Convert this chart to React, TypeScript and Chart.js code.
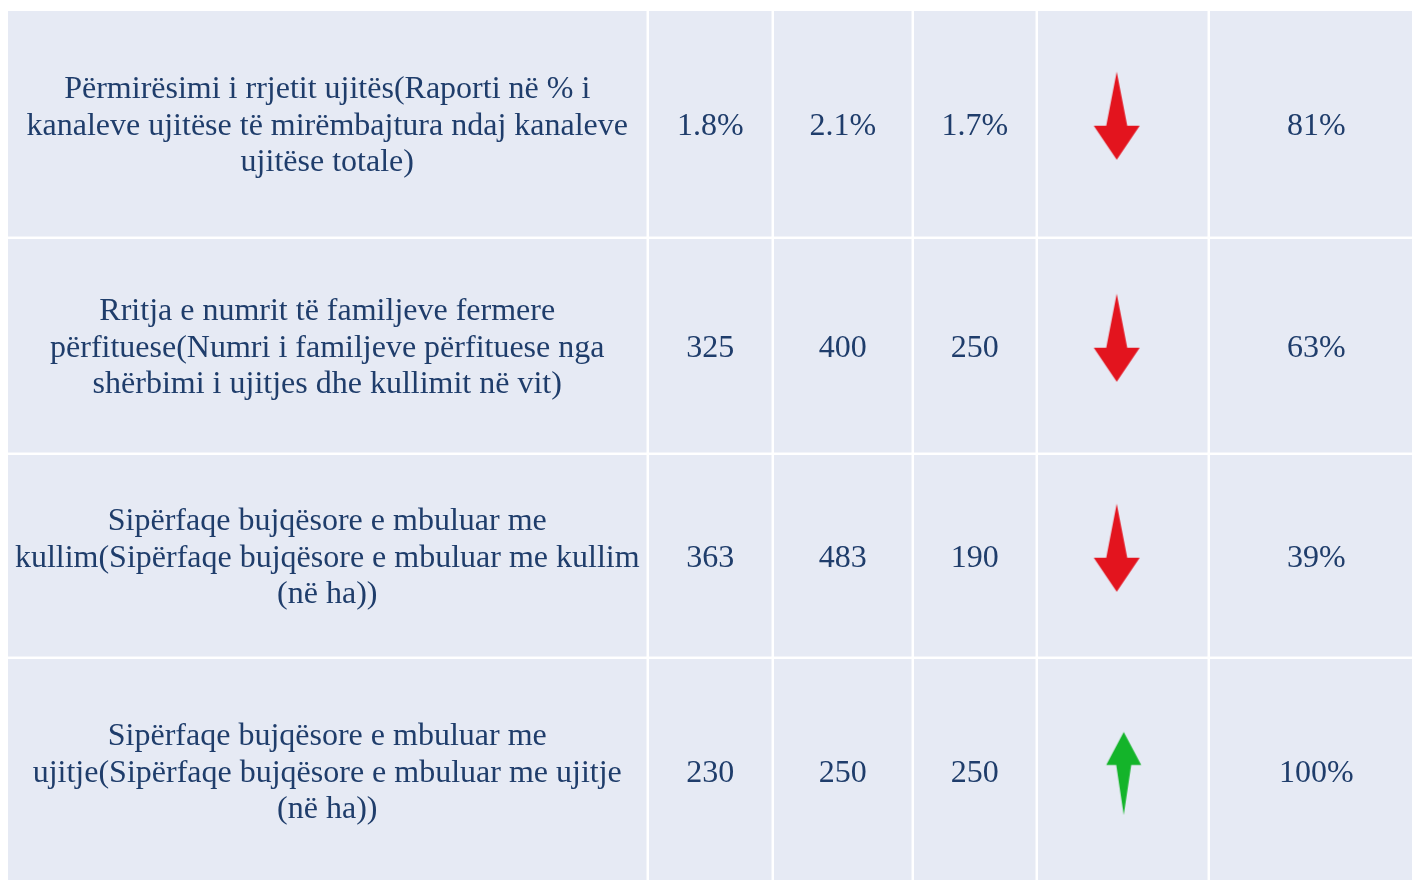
import React, { useEffect, useRef } from "react";
import { Chart, registerables } from "chart.js";

Chart.register(...registerables);

// ---- data ----
const INDICATORS: string[][] = [
  [
    "Përmirësimi i rrjetit ujitës(Raporti në % i",
    "kanaleve ujitëse të mirëmbajtura ndaj kanaleve",
    "ujitëse totale)",
  ],
  [
    "Rritja e numrit të familjeve fermere",
    "përfituese(Numri i familjeve përfituese nga",
    "shërbimi i ujitjes dhe kullimit në vit)",
  ],
  [
    "Sipërfaqe bujqësore e mbuluar me",
    "kullim(Sipërfaqe bujqësore e mbuluar me kullim",
    "(në ha))",
  ],
  [
    "Sipërfaqe bujqësore e mbuluar me",
    "ujitje(Sipërfaqe bujqësore e mbuluar me ujitje",
    "(në ha))",
  ],
];
const UNITS = ["%", "", "", ""];
const BASELINE = [1.8, 325, 363, 230];
const TARGET = [2.1, 400, 483, 250];
const ACTUAL = [1.7, 250, 190, 250];
const TREND = ["down", "down", "down", "up"];
const ACHIEVEMENT = [81, 63, 39, 100];

// ---- layout / style ----
const COL_WIDTHS = [641, 125, 140, 124, 172, 215];
const ROW_HEIGHTS = [228, 216, 204, 226];
const GAP = 2.5;
const CELL_BG = "#e6eaf4";
const TEXT_COLOR = "#1f3d6b";
const FONT = "32px 'Liberation Serif', 'Times New Roman', serif";
const LINE_H = 36.5;
const TEXT_DY = 2.5;
const RED = "#e3141e";
const GREEN = "#14b42a";

const TOTAL_W = COL_WIDTHS.reduce((a, b) => a + b, 0);
const TOTAL_H = ROW_HEIGHTS.reduce((a, b) => a + b, 0) + 10;
const colStart = (c: number) => COL_WIDTHS.slice(0, c).reduce((a, b) => a + b, 0);
const rowStart = (r: number) => ROW_HEIGHTS.slice(0, r).reduce((a, b) => a + b, 0);
const colCenter = (c: number) => colStart(c) + (COL_WIDTHS[c] - GAP) / 2;
const rowCenter = (r: number) => rowStart(r) + (ROW_HEIGHTS[r] - GAP) / 2;

function makeArrow(dir: string): HTMLCanvasElement {
  const cv = document.createElement("canvas");
  cv.width = 80;
  cv.height = 120;
  const ctx = cv.getContext("2d")!;
  ctx.filter = "blur(0.6px)";
  ctx.beginPath();
  if (dir === "down") {
    const cx = 40 - 6;
    const cy = 60 - 8;
    ctx.fillStyle = RED;
    ctx.moveTo(cx, cy - 44);
    ctx.lineTo(cx + 10.5, cy + 10);
    ctx.lineTo(cx + 23, cy + 10);
    ctx.lineTo(cx, cy + 44);
    ctx.lineTo(cx - 23, cy + 10);
    ctx.lineTo(cx - 10.5, cy + 10);
  } else {
    const cx = 40 + 1;
    const cy = 60 + 2.75;
    ctx.fillStyle = GREEN;
    ctx.moveTo(cx, cy - 41.5);
    ctx.lineTo(cx + 17.5, cy - 8.5);
    ctx.lineTo(cx + 7.5, cy - 8.5);
    ctx.lineTo(cx, cy + 41.5);
    ctx.lineTo(cx - 7.5, cy - 8.5);
    ctx.lineTo(cx - 17.5, cy - 8.5);
  }
  ctx.closePath();
  ctx.fill();
  return cv;
}

const fmt = (v: number, u: string) => `${v}${u}`;

const tablePlugin = {
  id: "tableCells",
  beforeDatasetsDraw(chart: any) {
    const { ctx, scales } = chart;
    const xs = scales.x;
    const ys = scales.y;
    ctx.save();
    // cell backgrounds
    ctx.fillStyle = CELL_BG;
    for (let r = 0; r < ROW_HEIGHTS.length; r++) {
      for (let c = 0; c < COL_WIDTHS.length; c++) {
        const x0 = xs.getPixelForValue(colStart(c));
        const x1 = xs.getPixelForValue(colStart(c) + COL_WIDTHS[c] - GAP);
        const y0 = ys.getPixelForValue(rowStart(r));
        const y1 = ys.getPixelForValue(rowStart(r) + ROW_HEIGHTS[r] - GAP);
        ctx.fillRect(x0, y0, x1 - x0, y1 - y0);
      }
    }
    // texts
    ctx.fillStyle = TEXT_COLOR;
    ctx.font = FONT;
    ctx.textAlign = "center";
    ctx.textBaseline = "middle";
    for (let r = 0; r < INDICATORS.length; r++) {
      const cy = ys.getPixelForValue(rowCenter(r)) + TEXT_DY;
      const lines = INDICATORS[r];
      const cx0 = xs.getPixelForValue(colCenter(0));
      lines.forEach((ln, i) => {
        ctx.fillText(ln, cx0, cy + (i - (lines.length - 1) / 2) * LINE_H);
      });
      const vals = [
        fmt(BASELINE[r], UNITS[r]),
        fmt(TARGET[r], UNITS[r]),
        fmt(ACTUAL[r], UNITS[r]),
      ];
      vals.forEach((v, i) => {
        ctx.fillText(v, xs.getPixelForValue(colCenter(i + 1)), cy);
      });
      ctx.fillText(`${ACHIEVEMENT[r]}%`, xs.getPixelForValue(colCenter(5)), cy);
    }
    ctx.restore();
  },
};

export default function App() {
  const ref = useRef<HTMLCanvasElement | null>(null);
  useEffect(() => {
    if (!ref.current) return;
    const arrows: Record<string, HTMLCanvasElement> = {
      down: makeArrow("down"),
      up: makeArrow("up"),
    };
    const chart = new Chart(ref.current, {
      type: "scatter",
      data: {
        datasets: [
          {
            label: "Trend",
            data: TREND.map((_, r) => ({ x: colCenter(4), y: rowCenter(r) })),
            pointStyle: TREND.map((t) => arrows[t]) as any,
            pointRadius: 10,
            pointHoverRadius: 10,
          },
        ],
      },
      options: {
        animation: false,
        responsive: false,
        devicePixelRatio: 1,
        events: [],
        layout: { padding: { left: 8, top: 11, right: 0, bottom: 0 }, autoPadding: false },
        plugins: { legend: { display: false }, tooltip: { enabled: false } },
        scales: {
          x: { type: "linear", min: 0, max: TOTAL_W, display: false },
          y: { type: "linear", min: 0, max: TOTAL_H, reverse: true, display: false },
        },
      },
      plugins: [tablePlugin],
    });
    return () => chart.destroy();
  }, []);
  return (
    <div
      style={{
        position: "absolute",
        left: 0,
        top: 0,
        width: 1412,
        height: 880,
        overflow: "hidden",
        background: "#ffffff",
      }}
    >
      <canvas
        ref={ref}
        width={8 + TOTAL_W}
        height={11 + TOTAL_H}
        style={{ display: "block", width: 8 + TOTAL_W, height: 11 + TOTAL_H }}
      />
    </div>
  );
}
